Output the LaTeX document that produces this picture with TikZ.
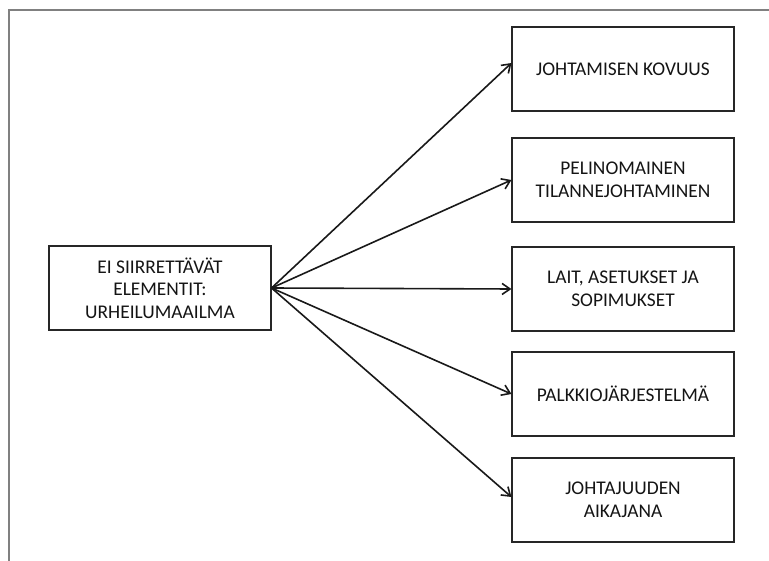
\documentclass[tikz,border=0pt]{standalone}
\usepackage{fontspec}
\setmainfont{Carlito}
\usetikzlibrary{arrows.meta,calc}
\begin{document}
\begin{tikzpicture}[x=1pt,y=-1pt,
  box/.style={draw=black!85,line width=1.1pt,minimum width=222pt,minimum height=84pt,inner sep=0pt,align=center,font=\fontsize{19.4}{22.5}\selectfont,text=black!92},
  conn/.style={draw=black!90,line width=1.6pt,-{Straight Barb[length=8pt,width=11pt,line width=1.6pt]}},
  frame/.style={draw=black!50,line width=1.6pt}]
\useasboundingbox (0,0) rectangle (769,561);
\draw[frame] (9,561) -- (9,10) -- (769,10);
\node[box] (src) at (160,288) {EI SIIRRETTÄVÄT\\ELEMENTIT:\\URHEILUMAAILMA};
\node[box] (b1) at (623,69) {JOHTAMISEN KOVUUS};
\node[box] (b2) at (623,180) {PELINOMAINEN\\TILANNEJOHTAMINEN};
\node[box] (b3) at (623,289) {LAIT, ASETUKSET JA\\SOPIMUKSET};
\node[box] (b4) at (623,394) {PALKKIOJÄRJESTELMÄ};
\node[box] (b5) at (623,500) {JOHTAJUUDEN\\AIKAJANA};
\coordinate (t1) at ($(b1.west)+(0,-6)$);
\coordinate (t5) at ($(b5.west)+(0,-3)$);
\draw[conn] (src.east) -- (t1);
\draw[conn] (src.east) -- (b2.west);
\draw[conn] (src.east) -- (b3.west);
\draw[conn] (src.east) -- (b4.west);
\draw[conn] (src.east) -- (t5);
\end{tikzpicture}
\end{document}
